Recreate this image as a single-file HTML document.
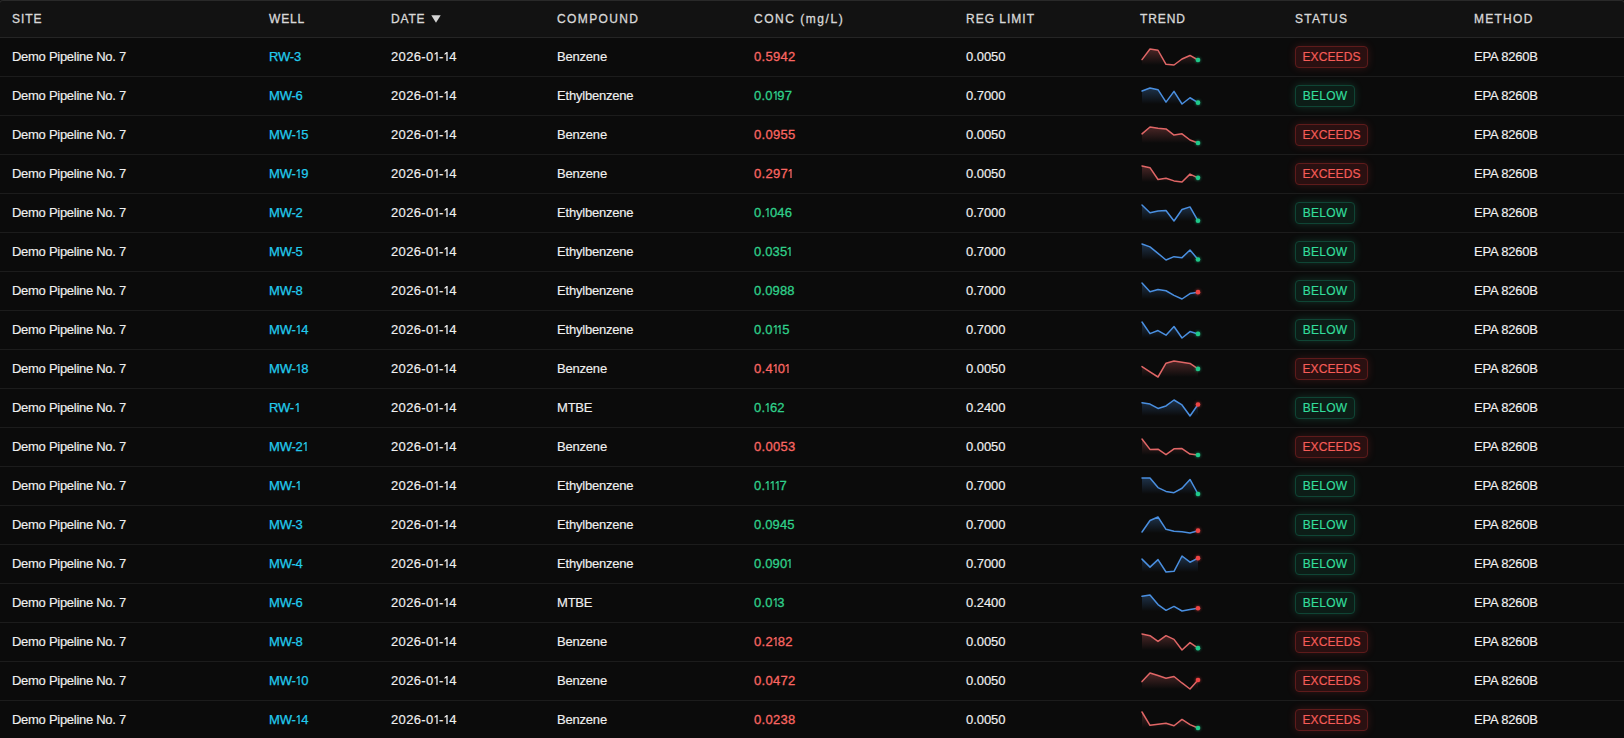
<!DOCTYPE html><html><head><meta charset="utf-8"><style>

*{box-sizing:border-box;margin:0;padding:0}
html,body{width:1624px;height:738px;overflow:hidden;background:#0b0b0b}
body{font-family:"Liberation Sans",sans-serif;position:relative}
.top{position:absolute;left:-1px;top:0;width:1626px;height:37px;border:1px solid #292929;border-bottom:0;border-radius:4px 4px 0 0;background:#121212}
.hd{display:none}
.hb{position:absolute;left:0;top:37px;width:1624px;height:1px;background:#252525}
.h{position:absolute;top:1px;height:36px;line-height:36px;font-size:12px;font-weight:normal;-webkit-text-stroke:0.3px currentColor;color:#d8d8d8;white-space:nowrap}
.r{position:absolute;left:0;width:1624px;height:39px;border-bottom:1px solid #1c1c1c}
.c{position:absolute;top:0;height:38px;line-height:38px;font-size:13px;letter-spacing:-0.2px;color:#f0f0f0;white-space:nowrap;-webkit-text-stroke:0.15px currentColor}
.lk{color:#22cbee;-webkit-text-stroke:0.25px currentColor}
.nr{color:#fa6662;letter-spacing:0.3px;-webkit-text-stroke:0.3px currentColor}
.dt{letter-spacing:0.34px}
.dt .o{margin-left:0.4px;margin-right:0.34px}
.lk .o{margin-left:0.6px;margin-right:0.2px}
.lm{letter-spacing:-0.05px}
.st{letter-spacing:-0.28px}
.ng{color:#2fd08a;letter-spacing:0.15px;-webkit-text-stroke:0.3px currentColor}
.o{display:inline-block;width:4.8px;height:9.3px;vertical-align:baseline;margin-right:0px}.o svg{display:block}
.sp{position:absolute;top:9px;left:12px;overflow:visible}
.dg{filter:drop-shadow(0 0 1.5px rgba(31,201,138,.7))}
.dr{filter:drop-shadow(0 0 1.5px rgba(239,68,68,.7))}
.bd{position:absolute;left:12px;top:8px;height:22px;line-height:20px;border-radius:4px;border:1px solid;font-size:12px;text-align:center;letter-spacing:0;-webkit-text-stroke:0.18px currentColor}
.be{width:73px;letter-spacing:0.1px}.bb{width:60px;letter-spacing:0.25px;text-indent:0.25px}
.be{color:#f65c58;border-color:#5e1b1b;background:#2a1011;box-shadow:0 0 8px rgba(239,68,68,.18)}
.bb{color:#33dd9c;border-color:#0f4535;background:#0c1d17;box-shadow:0 0 9px rgba(52,211,153,.2)}
.tri{position:absolute;left:419px;top:14px}

</style></head><body>
<svg width="0" height="0" style="position:absolute"><defs><linearGradient id="gr" x1="0" y1="0" x2="0" y2="1"><stop offset="0" stop-color="#e06666" stop-opacity=".3"/><stop offset="1" stop-color="#e06666" stop-opacity="0"/></linearGradient><linearGradient id="gb" x1="0" y1="0" x2="0" y2="1"><stop offset="0" stop-color="#4a8fe0" stop-opacity=".3"/><stop offset="1" stop-color="#4a8fe0" stop-opacity="0"/></linearGradient></defs></svg>
<div class="top"></div><div class="hd"></div><div class="hb"></div>
<svg width="10" height="8" viewBox="0 0 10 8" style="position:absolute;left:431px;top:15px"><path d="M0.3,0.3 L9.7,0.3 L5,7.8 Z" fill="#d4d4d4"/></svg>
<div class="h" style="left:12px;letter-spacing:0.98px">SITE</div>
<div class="h" style="left:269px;letter-spacing:0.85px">WELL</div>
<div class="h" style="left:391px;letter-spacing:0.8px">DATE</div>
<div class="h" style="left:557px;letter-spacing:1.38px">COMPOUND</div>
<div class="h" style="left:754px;letter-spacing:1.53px">CONC (mg/L)</div>
<div class="h" style="left:966px;letter-spacing:1.0px">REG LIMIT</div>
<div class="h" style="left:1140px;letter-spacing:0.92px">TREND</div>
<div class="h" style="left:1295px;letter-spacing:1.29px">STATUS</div>
<div class="h" style="left:1474px;letter-spacing:1.26px">METHOD</div>
<div class="r" style="top:38px">
<div class="c st" style="left:12px">Demo Pipeline No. 7</div>
<div class="c lk" style="left:269px">RW-3</div>
<div class="c dt" style="left:391px">2026-0<span class="o"><svg width="4.8" height="9.3" viewBox="0 0 4.8 9.3"><path d="M2.35,0 H3.65 V9.3 H2.35 V1.85 L0.6,2.95 V1.6 L2.35,0.25 Z" fill="currentColor"/></svg></span>-<span class="o"><svg width="4.8" height="9.3" viewBox="0 0 4.8 9.3"><path d="M2.35,0 H3.65 V9.3 H2.35 V1.85 L0.6,2.95 V1.6 L2.35,0.25 Z" fill="currentColor"/></svg></span>4</div>
<div class="c " style="left:557px">Benzene</div>
<div class="c nr" style="left:754px">0.5942</div>
<div class="c lm" style="left:966px">0.0050</div>
<div class="c" style="left:1128px;width:155px"><svg class="sp" width="60" height="20" viewBox="0 0 60 20"><path d="M2,18 L2,12.58 L10,2.00 L18,3.25 L26,17.35 L34,18.00 L42,11.98 L50,8.47 L58,12.98 L58,18 Z" fill="url(#gr)"/><polyline points="2,12.58 10,2.00 18,3.25 26,17.35 34,18.00 42,11.98 50,8.47 58,12.98" fill="none" stroke="#e06666" stroke-width="1.5" stroke-linejoin="round" stroke-linecap="round"/><circle cx="58" cy="12.98" r="2.3" fill="#1fc98a" class="dg"/></svg></div>
<div class="c" style="left:1283px;width:179px"><span class="bd be">EXCEEDS</span></div>
<div class="c" style="left:1474px">EPA 8260B</div>
</div>
<div class="r" style="top:77px">
<div class="c st" style="left:12px">Demo Pipeline No. 7</div>
<div class="c lk" style="left:269px">MW-6</div>
<div class="c dt" style="left:391px">2026-0<span class="o"><svg width="4.8" height="9.3" viewBox="0 0 4.8 9.3"><path d="M2.35,0 H3.65 V9.3 H2.35 V1.85 L0.6,2.95 V1.6 L2.35,0.25 Z" fill="currentColor"/></svg></span>-<span class="o"><svg width="4.8" height="9.3" viewBox="0 0 4.8 9.3"><path d="M2.35,0 H3.65 V9.3 H2.35 V1.85 L0.6,2.95 V1.6 L2.35,0.25 Z" fill="currentColor"/></svg></span>4</div>
<div class="c " style="left:557px">Ethylbenzene</div>
<div class="c ng" style="left:754px">0.0<span class="o"><svg width="4.8" height="9.3" viewBox="0 0 4.8 9.3"><path d="M2.35,0 H3.65 V9.3 H2.35 V1.85 L0.6,2.95 V1.6 L2.35,0.25 Z" fill="currentColor"/></svg></span>97</div>
<div class="c lm" style="left:966px">0.7000</div>
<div class="c" style="left:1128px;width:155px"><svg class="sp" width="60" height="20" viewBox="0 0 60 20"><path d="M2,18 L2,5.05 L10,2.00 L18,3.67 L26,16.15 L34,5.33 L42,18.00 L50,11.76 L58,16.64 L58,18 Z" fill="url(#gb)"/><polyline points="2,5.05 10,2.00 18,3.67 26,16.15 34,5.33 42,18.00 50,11.76 58,16.64" fill="none" stroke="#4a8fe0" stroke-width="1.5" stroke-linejoin="round" stroke-linecap="round"/><circle cx="58" cy="16.64" r="2.3" fill="#1fc98a" class="dg"/></svg></div>
<div class="c" style="left:1283px;width:179px"><span class="bd bb">BELOW</span></div>
<div class="c" style="left:1474px">EPA 8260B</div>
</div>
<div class="r" style="top:116px">
<div class="c st" style="left:12px">Demo Pipeline No. 7</div>
<div class="c lk" style="left:269px">MW-<span class="o"><svg width="4.8" height="9.3" viewBox="0 0 4.8 9.3"><path d="M2.35,0 H3.65 V9.3 H2.35 V1.85 L0.6,2.95 V1.6 L2.35,0.25 Z" fill="currentColor"/></svg></span>5</div>
<div class="c dt" style="left:391px">2026-0<span class="o"><svg width="4.8" height="9.3" viewBox="0 0 4.8 9.3"><path d="M2.35,0 H3.65 V9.3 H2.35 V1.85 L0.6,2.95 V1.6 L2.35,0.25 Z" fill="currentColor"/></svg></span>-<span class="o"><svg width="4.8" height="9.3" viewBox="0 0 4.8 9.3"><path d="M2.35,0 H3.65 V9.3 H2.35 V1.85 L0.6,2.95 V1.6 L2.35,0.25 Z" fill="currentColor"/></svg></span>4</div>
<div class="c " style="left:557px">Benzene</div>
<div class="c nr" style="left:754px">0.0955</div>
<div class="c lm" style="left:966px">0.0050</div>
<div class="c" style="left:1128px;width:155px"><svg class="sp" width="60" height="20" viewBox="0 0 60 20"><path d="M2,18 L2,8.86 L10,2.00 L18,3.19 L26,3.89 L34,10.05 L42,8.86 L50,15.02 L58,18.00 L58,18 Z" fill="url(#gr)"/><polyline points="2,8.86 10,2.00 18,3.19 26,3.89 34,10.05 42,8.86 50,15.02 58,18.00" fill="none" stroke="#e06666" stroke-width="1.5" stroke-linejoin="round" stroke-linecap="round"/><circle cx="58" cy="18.00" r="2.3" fill="#1fc98a" class="dg"/></svg></div>
<div class="c" style="left:1283px;width:179px"><span class="bd be">EXCEEDS</span></div>
<div class="c" style="left:1474px">EPA 8260B</div>
</div>
<div class="r" style="top:155px">
<div class="c st" style="left:12px">Demo Pipeline No. 7</div>
<div class="c lk" style="left:269px">MW-<span class="o"><svg width="4.8" height="9.3" viewBox="0 0 4.8 9.3"><path d="M2.35,0 H3.65 V9.3 H2.35 V1.85 L0.6,2.95 V1.6 L2.35,0.25 Z" fill="currentColor"/></svg></span>9</div>
<div class="c dt" style="left:391px">2026-0<span class="o"><svg width="4.8" height="9.3" viewBox="0 0 4.8 9.3"><path d="M2.35,0 H3.65 V9.3 H2.35 V1.85 L0.6,2.95 V1.6 L2.35,0.25 Z" fill="currentColor"/></svg></span>-<span class="o"><svg width="4.8" height="9.3" viewBox="0 0 4.8 9.3"><path d="M2.35,0 H3.65 V9.3 H2.35 V1.85 L0.6,2.95 V1.6 L2.35,0.25 Z" fill="currentColor"/></svg></span>4</div>
<div class="c " style="left:557px">Benzene</div>
<div class="c nr" style="left:754px">0.297<span class="o"><svg width="4.8" height="9.3" viewBox="0 0 4.8 9.3"><path d="M2.35,0 H3.65 V9.3 H2.35 V1.85 L0.6,2.95 V1.6 L2.35,0.25 Z" fill="currentColor"/></svg></span></div>
<div class="c lm" style="left:966px">0.0050</div>
<div class="c" style="left:1128px;width:155px"><svg class="sp" width="60" height="20" viewBox="0 0 60 20"><path d="M2,18 L2,2.00 L10,3.70 L18,15.47 L26,14.23 L34,16.91 L42,18.00 L50,10.10 L58,13.83 L58,18 Z" fill="url(#gr)"/><polyline points="2,2.00 10,3.70 18,15.47 26,14.23 34,16.91 42,18.00 50,10.10 58,13.83" fill="none" stroke="#e06666" stroke-width="1.5" stroke-linejoin="round" stroke-linecap="round"/><circle cx="58" cy="13.83" r="2.3" fill="#1fc98a" class="dg"/></svg></div>
<div class="c" style="left:1283px;width:179px"><span class="bd be">EXCEEDS</span></div>
<div class="c" style="left:1474px">EPA 8260B</div>
</div>
<div class="r" style="top:194px">
<div class="c st" style="left:12px">Demo Pipeline No. 7</div>
<div class="c lk" style="left:269px">MW-2</div>
<div class="c dt" style="left:391px">2026-0<span class="o"><svg width="4.8" height="9.3" viewBox="0 0 4.8 9.3"><path d="M2.35,0 H3.65 V9.3 H2.35 V1.85 L0.6,2.95 V1.6 L2.35,0.25 Z" fill="currentColor"/></svg></span>-<span class="o"><svg width="4.8" height="9.3" viewBox="0 0 4.8 9.3"><path d="M2.35,0 H3.65 V9.3 H2.35 V1.85 L0.6,2.95 V1.6 L2.35,0.25 Z" fill="currentColor"/></svg></span>4</div>
<div class="c " style="left:557px">Ethylbenzene</div>
<div class="c ng" style="left:754px">0.<span class="o"><svg width="4.8" height="9.3" viewBox="0 0 4.8 9.3"><path d="M2.35,0 H3.65 V9.3 H2.35 V1.85 L0.6,2.95 V1.6 L2.35,0.25 Z" fill="currentColor"/></svg></span>046</div>
<div class="c lm" style="left:966px">0.7000</div>
<div class="c" style="left:1128px;width:155px"><svg class="sp" width="60" height="20" viewBox="0 0 60 20"><path d="M2,18 L2,2.00 L10,9.81 L18,7.94 L26,7.46 L34,18.00 L42,6.52 L50,3.89 L58,17.80 L58,18 Z" fill="url(#gb)"/><polyline points="2,2.00 10,9.81 18,7.94 26,7.46 34,18.00 42,6.52 50,3.89 58,17.80" fill="none" stroke="#4a8fe0" stroke-width="1.5" stroke-linejoin="round" stroke-linecap="round"/><circle cx="58" cy="17.80" r="2.3" fill="#1fc98a" class="dg"/></svg></div>
<div class="c" style="left:1283px;width:179px"><span class="bd bb">BELOW</span></div>
<div class="c" style="left:1474px">EPA 8260B</div>
</div>
<div class="r" style="top:233px">
<div class="c st" style="left:12px">Demo Pipeline No. 7</div>
<div class="c lk" style="left:269px">MW-5</div>
<div class="c dt" style="left:391px">2026-0<span class="o"><svg width="4.8" height="9.3" viewBox="0 0 4.8 9.3"><path d="M2.35,0 H3.65 V9.3 H2.35 V1.85 L0.6,2.95 V1.6 L2.35,0.25 Z" fill="currentColor"/></svg></span>-<span class="o"><svg width="4.8" height="9.3" viewBox="0 0 4.8 9.3"><path d="M2.35,0 H3.65 V9.3 H2.35 V1.85 L0.6,2.95 V1.6 L2.35,0.25 Z" fill="currentColor"/></svg></span>4</div>
<div class="c " style="left:557px">Ethylbenzene</div>
<div class="c ng" style="left:754px">0.035<span class="o"><svg width="4.8" height="9.3" viewBox="0 0 4.8 9.3"><path d="M2.35,0 H3.65 V9.3 H2.35 V1.85 L0.6,2.95 V1.6 L2.35,0.25 Z" fill="currentColor"/></svg></span></div>
<div class="c lm" style="left:966px">0.7000</div>
<div class="c" style="left:1128px;width:155px"><svg class="sp" width="60" height="20" viewBox="0 0 60 20"><path d="M2,18 L2,2.00 L10,4.86 L18,11.35 L26,18.00 L34,14.68 L42,15.64 L50,8.01 L58,17.50 L58,18 Z" fill="url(#gb)"/><polyline points="2,2.00 10,4.86 18,11.35 26,18.00 34,14.68 42,15.64 50,8.01 58,17.50" fill="none" stroke="#4a8fe0" stroke-width="1.5" stroke-linejoin="round" stroke-linecap="round"/><circle cx="58" cy="17.50" r="2.3" fill="#1fc98a" class="dg"/></svg></div>
<div class="c" style="left:1283px;width:179px"><span class="bd bb">BELOW</span></div>
<div class="c" style="left:1474px">EPA 8260B</div>
</div>
<div class="r" style="top:272px">
<div class="c st" style="left:12px">Demo Pipeline No. 7</div>
<div class="c lk" style="left:269px">MW-8</div>
<div class="c dt" style="left:391px">2026-0<span class="o"><svg width="4.8" height="9.3" viewBox="0 0 4.8 9.3"><path d="M2.35,0 H3.65 V9.3 H2.35 V1.85 L0.6,2.95 V1.6 L2.35,0.25 Z" fill="currentColor"/></svg></span>-<span class="o"><svg width="4.8" height="9.3" viewBox="0 0 4.8 9.3"><path d="M2.35,0 H3.65 V9.3 H2.35 V1.85 L0.6,2.95 V1.6 L2.35,0.25 Z" fill="currentColor"/></svg></span>4</div>
<div class="c " style="left:557px">Ethylbenzene</div>
<div class="c ng" style="left:754px">0.0988</div>
<div class="c lm" style="left:966px">0.7000</div>
<div class="c" style="left:1128px;width:155px"><svg class="sp" width="60" height="20" viewBox="0 0 60 20"><path d="M2,18 L2,2.00 L10,10.68 L18,8.56 L26,9.76 L34,14.34 L42,18.00 L50,12.51 L58,11.16 L58,18 Z" fill="url(#gb)"/><polyline points="2,2.00 10,10.68 18,8.56 26,9.76 34,14.34 42,18.00 50,12.51 58,11.16" fill="none" stroke="#4a8fe0" stroke-width="1.5" stroke-linejoin="round" stroke-linecap="round"/><circle cx="58" cy="11.16" r="2.3" fill="#ef4444" class="dr"/></svg></div>
<div class="c" style="left:1283px;width:179px"><span class="bd bb">BELOW</span></div>
<div class="c" style="left:1474px">EPA 8260B</div>
</div>
<div class="r" style="top:311px">
<div class="c st" style="left:12px">Demo Pipeline No. 7</div>
<div class="c lk" style="left:269px">MW-<span class="o"><svg width="4.8" height="9.3" viewBox="0 0 4.8 9.3"><path d="M2.35,0 H3.65 V9.3 H2.35 V1.85 L0.6,2.95 V1.6 L2.35,0.25 Z" fill="currentColor"/></svg></span>4</div>
<div class="c dt" style="left:391px">2026-0<span class="o"><svg width="4.8" height="9.3" viewBox="0 0 4.8 9.3"><path d="M2.35,0 H3.65 V9.3 H2.35 V1.85 L0.6,2.95 V1.6 L2.35,0.25 Z" fill="currentColor"/></svg></span>-<span class="o"><svg width="4.8" height="9.3" viewBox="0 0 4.8 9.3"><path d="M2.35,0 H3.65 V9.3 H2.35 V1.85 L0.6,2.95 V1.6 L2.35,0.25 Z" fill="currentColor"/></svg></span>4</div>
<div class="c " style="left:557px">Ethylbenzene</div>
<div class="c ng" style="left:754px">0.0<span class="o"><svg width="4.8" height="9.3" viewBox="0 0 4.8 9.3"><path d="M2.35,0 H3.65 V9.3 H2.35 V1.85 L0.6,2.95 V1.6 L2.35,0.25 Z" fill="currentColor"/></svg></span><span class="o"><svg width="4.8" height="9.3" viewBox="0 0 4.8 9.3"><path d="M2.35,0 H3.65 V9.3 H2.35 V1.85 L0.6,2.95 V1.6 L2.35,0.25 Z" fill="currentColor"/></svg></span>5</div>
<div class="c lm" style="left:966px">0.7000</div>
<div class="c" style="left:1128px;width:155px"><svg class="sp" width="60" height="20" viewBox="0 0 60 20"><path d="M2,18 L2,2.00 L10,13.63 L18,10.54 L26,15.21 L34,6.46 L42,18.00 L50,11.58 L58,13.91 L58,18 Z" fill="url(#gb)"/><polyline points="2,2.00 10,13.63 18,10.54 26,15.21 34,6.46 42,18.00 50,11.58 58,13.91" fill="none" stroke="#4a8fe0" stroke-width="1.5" stroke-linejoin="round" stroke-linecap="round"/><circle cx="58" cy="13.91" r="2.3" fill="#1fc98a" class="dg"/></svg></div>
<div class="c" style="left:1283px;width:179px"><span class="bd bb">BELOW</span></div>
<div class="c" style="left:1474px">EPA 8260B</div>
</div>
<div class="r" style="top:350px">
<div class="c st" style="left:12px">Demo Pipeline No. 7</div>
<div class="c lk" style="left:269px">MW-<span class="o"><svg width="4.8" height="9.3" viewBox="0 0 4.8 9.3"><path d="M2.35,0 H3.65 V9.3 H2.35 V1.85 L0.6,2.95 V1.6 L2.35,0.25 Z" fill="currentColor"/></svg></span>8</div>
<div class="c dt" style="left:391px">2026-0<span class="o"><svg width="4.8" height="9.3" viewBox="0 0 4.8 9.3"><path d="M2.35,0 H3.65 V9.3 H2.35 V1.85 L0.6,2.95 V1.6 L2.35,0.25 Z" fill="currentColor"/></svg></span>-<span class="o"><svg width="4.8" height="9.3" viewBox="0 0 4.8 9.3"><path d="M2.35,0 H3.65 V9.3 H2.35 V1.85 L0.6,2.95 V1.6 L2.35,0.25 Z" fill="currentColor"/></svg></span>4</div>
<div class="c " style="left:557px">Benzene</div>
<div class="c nr" style="left:754px">0.4<span class="o"><svg width="4.8" height="9.3" viewBox="0 0 4.8 9.3"><path d="M2.35,0 H3.65 V9.3 H2.35 V1.85 L0.6,2.95 V1.6 L2.35,0.25 Z" fill="currentColor"/></svg></span>0<span class="o"><svg width="4.8" height="9.3" viewBox="0 0 4.8 9.3"><path d="M2.35,0 H3.65 V9.3 H2.35 V1.85 L0.6,2.95 V1.6 L2.35,0.25 Z" fill="currentColor"/></svg></span></div>
<div class="c lm" style="left:966px">0.0050</div>
<div class="c" style="left:1128px;width:155px"><svg class="sp" width="60" height="20" viewBox="0 0 60 20"><path d="M2,18 L2,7.53 L10,12.77 L18,18.00 L26,4.19 L34,2.00 L42,3.23 L50,4.48 L58,9.91 L58,18 Z" fill="url(#gr)"/><polyline points="2,7.53 10,12.77 18,18.00 26,4.19 34,2.00 42,3.23 50,4.48 58,9.91" fill="none" stroke="#e06666" stroke-width="1.5" stroke-linejoin="round" stroke-linecap="round"/><circle cx="58" cy="9.91" r="2.3" fill="#1fc98a" class="dg"/></svg></div>
<div class="c" style="left:1283px;width:179px"><span class="bd be">EXCEEDS</span></div>
<div class="c" style="left:1474px">EPA 8260B</div>
</div>
<div class="r" style="top:389px">
<div class="c st" style="left:12px">Demo Pipeline No. 7</div>
<div class="c lk" style="left:269px">RW-<span class="o"><svg width="4.8" height="9.3" viewBox="0 0 4.8 9.3"><path d="M2.35,0 H3.65 V9.3 H2.35 V1.85 L0.6,2.95 V1.6 L2.35,0.25 Z" fill="currentColor"/></svg></span></div>
<div class="c dt" style="left:391px">2026-0<span class="o"><svg width="4.8" height="9.3" viewBox="0 0 4.8 9.3"><path d="M2.35,0 H3.65 V9.3 H2.35 V1.85 L0.6,2.95 V1.6 L2.35,0.25 Z" fill="currentColor"/></svg></span>-<span class="o"><svg width="4.8" height="9.3" viewBox="0 0 4.8 9.3"><path d="M2.35,0 H3.65 V9.3 H2.35 V1.85 L0.6,2.95 V1.6 L2.35,0.25 Z" fill="currentColor"/></svg></span>4</div>
<div class="c " style="left:557px">MTBE</div>
<div class="c ng" style="left:754px">0.<span class="o"><svg width="4.8" height="9.3" viewBox="0 0 4.8 9.3"><path d="M2.35,0 H3.65 V9.3 H2.35 V1.85 L0.6,2.95 V1.6 L2.35,0.25 Z" fill="currentColor"/></svg></span>62</div>
<div class="c lm" style="left:966px">0.2400</div>
<div class="c" style="left:1128px;width:155px"><svg class="sp" width="60" height="20" viewBox="0 0 60 20"><path d="M2,18 L2,4.83 L10,6.05 L18,10.46 L26,7.94 L34,2.00 L42,6.98 L50,18.00 L58,6.52 L58,18 Z" fill="url(#gb)"/><polyline points="2,4.83 10,6.05 18,10.46 26,7.94 34,2.00 42,6.98 50,18.00 58,6.52" fill="none" stroke="#4a8fe0" stroke-width="1.5" stroke-linejoin="round" stroke-linecap="round"/><circle cx="58" cy="6.52" r="2.3" fill="#ef4444" class="dr"/></svg></div>
<div class="c" style="left:1283px;width:179px"><span class="bd bb">BELOW</span></div>
<div class="c" style="left:1474px">EPA 8260B</div>
</div>
<div class="r" style="top:428px">
<div class="c st" style="left:12px">Demo Pipeline No. 7</div>
<div class="c lk" style="left:269px">MW-2<span class="o"><svg width="4.8" height="9.3" viewBox="0 0 4.8 9.3"><path d="M2.35,0 H3.65 V9.3 H2.35 V1.85 L0.6,2.95 V1.6 L2.35,0.25 Z" fill="currentColor"/></svg></span></div>
<div class="c dt" style="left:391px">2026-0<span class="o"><svg width="4.8" height="9.3" viewBox="0 0 4.8 9.3"><path d="M2.35,0 H3.65 V9.3 H2.35 V1.85 L0.6,2.95 V1.6 L2.35,0.25 Z" fill="currentColor"/></svg></span>-<span class="o"><svg width="4.8" height="9.3" viewBox="0 0 4.8 9.3"><path d="M2.35,0 H3.65 V9.3 H2.35 V1.85 L0.6,2.95 V1.6 L2.35,0.25 Z" fill="currentColor"/></svg></span>4</div>
<div class="c " style="left:557px">Benzene</div>
<div class="c nr" style="left:754px">0.0053</div>
<div class="c lm" style="left:966px">0.0050</div>
<div class="c" style="left:1128px;width:155px"><svg class="sp" width="60" height="20" viewBox="0 0 60 20"><path d="M2,18 L2,2.00 L10,12.41 L18,12.21 L26,17.61 L34,11.77 L42,11.53 L50,17.12 L58,18.00 L58,18 Z" fill="url(#gr)"/><polyline points="2,2.00 10,12.41 18,12.21 26,17.61 34,11.77 42,11.53 50,17.12 58,18.00" fill="none" stroke="#e06666" stroke-width="1.5" stroke-linejoin="round" stroke-linecap="round"/><circle cx="58" cy="18.00" r="2.3" fill="#1fc98a" class="dg"/></svg></div>
<div class="c" style="left:1283px;width:179px"><span class="bd be">EXCEEDS</span></div>
<div class="c" style="left:1474px">EPA 8260B</div>
</div>
<div class="r" style="top:467px">
<div class="c st" style="left:12px">Demo Pipeline No. 7</div>
<div class="c lk" style="left:269px">MW-<span class="o"><svg width="4.8" height="9.3" viewBox="0 0 4.8 9.3"><path d="M2.35,0 H3.65 V9.3 H2.35 V1.85 L0.6,2.95 V1.6 L2.35,0.25 Z" fill="currentColor"/></svg></span></div>
<div class="c dt" style="left:391px">2026-0<span class="o"><svg width="4.8" height="9.3" viewBox="0 0 4.8 9.3"><path d="M2.35,0 H3.65 V9.3 H2.35 V1.85 L0.6,2.95 V1.6 L2.35,0.25 Z" fill="currentColor"/></svg></span>-<span class="o"><svg width="4.8" height="9.3" viewBox="0 0 4.8 9.3"><path d="M2.35,0 H3.65 V9.3 H2.35 V1.85 L0.6,2.95 V1.6 L2.35,0.25 Z" fill="currentColor"/></svg></span>4</div>
<div class="c " style="left:557px">Ethylbenzene</div>
<div class="c ng" style="left:754px">0.<span class="o"><svg width="4.8" height="9.3" viewBox="0 0 4.8 9.3"><path d="M2.35,0 H3.65 V9.3 H2.35 V1.85 L0.6,2.95 V1.6 L2.35,0.25 Z" fill="currentColor"/></svg></span><span class="o"><svg width="4.8" height="9.3" viewBox="0 0 4.8 9.3"><path d="M2.35,0 H3.65 V9.3 H2.35 V1.85 L0.6,2.95 V1.6 L2.35,0.25 Z" fill="currentColor"/></svg></span><span class="o"><svg width="4.8" height="9.3" viewBox="0 0 4.8 9.3"><path d="M2.35,0 H3.65 V9.3 H2.35 V1.85 L0.6,2.95 V1.6 L2.35,0.25 Z" fill="currentColor"/></svg></span>7</div>
<div class="c lm" style="left:966px">0.7000</div>
<div class="c" style="left:1128px;width:155px"><svg class="sp" width="60" height="20" viewBox="0 0 60 20"><path d="M2,18 L2,2.00 L10,2.00 L18,11.59 L26,15.42 L34,16.69 L42,12.24 L50,3.44 L58,18.00 L58,18 Z" fill="url(#gb)"/><polyline points="2,2.00 10,2.00 18,11.59 26,15.42 34,16.69 42,12.24 50,3.44 58,18.00" fill="none" stroke="#4a8fe0" stroke-width="1.5" stroke-linejoin="round" stroke-linecap="round"/><circle cx="58" cy="18.00" r="2.3" fill="#1fc98a" class="dg"/></svg></div>
<div class="c" style="left:1283px;width:179px"><span class="bd bb">BELOW</span></div>
<div class="c" style="left:1474px">EPA 8260B</div>
</div>
<div class="r" style="top:506px">
<div class="c st" style="left:12px">Demo Pipeline No. 7</div>
<div class="c lk" style="left:269px">MW-3</div>
<div class="c dt" style="left:391px">2026-0<span class="o"><svg width="4.8" height="9.3" viewBox="0 0 4.8 9.3"><path d="M2.35,0 H3.65 V9.3 H2.35 V1.85 L0.6,2.95 V1.6 L2.35,0.25 Z" fill="currentColor"/></svg></span>-<span class="o"><svg width="4.8" height="9.3" viewBox="0 0 4.8 9.3"><path d="M2.35,0 H3.65 V9.3 H2.35 V1.85 L0.6,2.95 V1.6 L2.35,0.25 Z" fill="currentColor"/></svg></span>4</div>
<div class="c " style="left:557px">Ethylbenzene</div>
<div class="c ng" style="left:754px">0.0945</div>
<div class="c lm" style="left:966px">0.7000</div>
<div class="c" style="left:1128px;width:155px"><svg class="sp" width="60" height="20" viewBox="0 0 60 20"><path d="M2,18 L2,17.03 L10,5.53 L18,2.00 L26,14.30 L34,16.15 L42,16.79 L50,18.00 L58,15.66 L58,18 Z" fill="url(#gb)"/><polyline points="2,17.03 10,5.53 18,2.00 26,14.30 34,16.15 42,16.79 50,18.00 58,15.66" fill="none" stroke="#4a8fe0" stroke-width="1.5" stroke-linejoin="round" stroke-linecap="round"/><circle cx="58" cy="15.66" r="2.3" fill="#ef4444" class="dr"/></svg></div>
<div class="c" style="left:1283px;width:179px"><span class="bd bb">BELOW</span></div>
<div class="c" style="left:1474px">EPA 8260B</div>
</div>
<div class="r" style="top:545px">
<div class="c st" style="left:12px">Demo Pipeline No. 7</div>
<div class="c lk" style="left:269px">MW-4</div>
<div class="c dt" style="left:391px">2026-0<span class="o"><svg width="4.8" height="9.3" viewBox="0 0 4.8 9.3"><path d="M2.35,0 H3.65 V9.3 H2.35 V1.85 L0.6,2.95 V1.6 L2.35,0.25 Z" fill="currentColor"/></svg></span>-<span class="o"><svg width="4.8" height="9.3" viewBox="0 0 4.8 9.3"><path d="M2.35,0 H3.65 V9.3 H2.35 V1.85 L0.6,2.95 V1.6 L2.35,0.25 Z" fill="currentColor"/></svg></span>4</div>
<div class="c " style="left:557px">Ethylbenzene</div>
<div class="c ng" style="left:754px">0.090<span class="o"><svg width="4.8" height="9.3" viewBox="0 0 4.8 9.3"><path d="M2.35,0 H3.65 V9.3 H2.35 V1.85 L0.6,2.95 V1.6 L2.35,0.25 Z" fill="currentColor"/></svg></span></div>
<div class="c lm" style="left:966px">0.7000</div>
<div class="c" style="left:1128px;width:155px"><svg class="sp" width="60" height="20" viewBox="0 0 60 20"><path d="M2,18 L2,5.10 L10,13.12 L18,5.59 L26,18.00 L34,17.31 L42,2.00 L50,8.21 L58,4.16 L58,18 Z" fill="url(#gb)"/><polyline points="2,5.10 10,13.12 18,5.59 26,18.00 34,17.31 42,2.00 50,8.21 58,4.16" fill="none" stroke="#4a8fe0" stroke-width="1.5" stroke-linejoin="round" stroke-linecap="round"/><circle cx="58" cy="4.16" r="2.3" fill="#ef4444" class="dr"/></svg></div>
<div class="c" style="left:1283px;width:179px"><span class="bd bb">BELOW</span></div>
<div class="c" style="left:1474px">EPA 8260B</div>
</div>
<div class="r" style="top:584px">
<div class="c st" style="left:12px">Demo Pipeline No. 7</div>
<div class="c lk" style="left:269px">MW-6</div>
<div class="c dt" style="left:391px">2026-0<span class="o"><svg width="4.8" height="9.3" viewBox="0 0 4.8 9.3"><path d="M2.35,0 H3.65 V9.3 H2.35 V1.85 L0.6,2.95 V1.6 L2.35,0.25 Z" fill="currentColor"/></svg></span>-<span class="o"><svg width="4.8" height="9.3" viewBox="0 0 4.8 9.3"><path d="M2.35,0 H3.65 V9.3 H2.35 V1.85 L0.6,2.95 V1.6 L2.35,0.25 Z" fill="currentColor"/></svg></span>4</div>
<div class="c " style="left:557px">MTBE</div>
<div class="c ng" style="left:754px">0.0<span class="o"><svg width="4.8" height="9.3" viewBox="0 0 4.8 9.3"><path d="M2.35,0 H3.65 V9.3 H2.35 V1.85 L0.6,2.95 V1.6 L2.35,0.25 Z" fill="currentColor"/></svg></span>3</div>
<div class="c lm" style="left:966px">0.2400</div>
<div class="c" style="left:1128px;width:155px"><svg class="sp" width="60" height="20" viewBox="0 0 60 20"><path d="M2,18 L2,3.36 L10,2.00 L18,11.59 L26,17.33 L34,13.42 L42,18.00 L50,16.46 L58,15.21 L58,18 Z" fill="url(#gb)"/><polyline points="2,3.36 10,2.00 18,11.59 26,17.33 34,13.42 42,18.00 50,16.46 58,15.21" fill="none" stroke="#4a8fe0" stroke-width="1.5" stroke-linejoin="round" stroke-linecap="round"/><circle cx="58" cy="15.21" r="2.3" fill="#ef4444" class="dr"/></svg></div>
<div class="c" style="left:1283px;width:179px"><span class="bd bb">BELOW</span></div>
<div class="c" style="left:1474px">EPA 8260B</div>
</div>
<div class="r" style="top:623px">
<div class="c st" style="left:12px">Demo Pipeline No. 7</div>
<div class="c lk" style="left:269px">MW-8</div>
<div class="c dt" style="left:391px">2026-0<span class="o"><svg width="4.8" height="9.3" viewBox="0 0 4.8 9.3"><path d="M2.35,0 H3.65 V9.3 H2.35 V1.85 L0.6,2.95 V1.6 L2.35,0.25 Z" fill="currentColor"/></svg></span>-<span class="o"><svg width="4.8" height="9.3" viewBox="0 0 4.8 9.3"><path d="M2.35,0 H3.65 V9.3 H2.35 V1.85 L0.6,2.95 V1.6 L2.35,0.25 Z" fill="currentColor"/></svg></span>4</div>
<div class="c " style="left:557px">Benzene</div>
<div class="c nr" style="left:754px">0.2<span class="o"><svg width="4.8" height="9.3" viewBox="0 0 4.8 9.3"><path d="M2.35,0 H3.65 V9.3 H2.35 V1.85 L0.6,2.95 V1.6 L2.35,0.25 Z" fill="currentColor"/></svg></span>82</div>
<div class="c lm" style="left:966px">0.0050</div>
<div class="c" style="left:1128px;width:155px"><svg class="sp" width="60" height="20" viewBox="0 0 60 20"><path d="M2,18 L2,2.00 L10,3.67 L18,9.40 L26,3.67 L34,7.36 L42,18.00 L50,10.59 L58,16.15 L58,18 Z" fill="url(#gr)"/><polyline points="2,2.00 10,3.67 18,9.40 26,3.67 34,7.36 42,18.00 50,10.59 58,16.15" fill="none" stroke="#e06666" stroke-width="1.5" stroke-linejoin="round" stroke-linecap="round"/><circle cx="58" cy="16.15" r="2.3" fill="#1fc98a" class="dg"/></svg></div>
<div class="c" style="left:1283px;width:179px"><span class="bd be">EXCEEDS</span></div>
<div class="c" style="left:1474px">EPA 8260B</div>
</div>
<div class="r" style="top:662px">
<div class="c st" style="left:12px">Demo Pipeline No. 7</div>
<div class="c lk" style="left:269px">MW-<span class="o"><svg width="4.8" height="9.3" viewBox="0 0 4.8 9.3"><path d="M2.35,0 H3.65 V9.3 H2.35 V1.85 L0.6,2.95 V1.6 L2.35,0.25 Z" fill="currentColor"/></svg></span>0</div>
<div class="c dt" style="left:391px">2026-0<span class="o"><svg width="4.8" height="9.3" viewBox="0 0 4.8 9.3"><path d="M2.35,0 H3.65 V9.3 H2.35 V1.85 L0.6,2.95 V1.6 L2.35,0.25 Z" fill="currentColor"/></svg></span>-<span class="o"><svg width="4.8" height="9.3" viewBox="0 0 4.8 9.3"><path d="M2.35,0 H3.65 V9.3 H2.35 V1.85 L0.6,2.95 V1.6 L2.35,0.25 Z" fill="currentColor"/></svg></span>4</div>
<div class="c " style="left:557px">Benzene</div>
<div class="c nr" style="left:754px">0.0472</div>
<div class="c lm" style="left:966px">0.0050</div>
<div class="c" style="left:1128px;width:155px"><svg class="sp" width="60" height="20" viewBox="0 0 60 20"><path d="M2,18 L2,10.59 L10,2.00 L18,4.58 L26,7.18 L34,5.53 L42,11.96 L50,18.00 L58,9.04 L58,18 Z" fill="url(#gr)"/><polyline points="2,10.59 10,2.00 18,4.58 26,7.18 34,5.53 42,11.96 50,18.00 58,9.04" fill="none" stroke="#e06666" stroke-width="1.5" stroke-linejoin="round" stroke-linecap="round"/><circle cx="58" cy="9.04" r="2.3" fill="#ef4444" class="dr"/></svg></div>
<div class="c" style="left:1283px;width:179px"><span class="bd be">EXCEEDS</span></div>
<div class="c" style="left:1474px">EPA 8260B</div>
</div>
<div class="r" style="top:701px">
<div class="c st" style="left:12px">Demo Pipeline No. 7</div>
<div class="c lk" style="left:269px">MW-<span class="o"><svg width="4.8" height="9.3" viewBox="0 0 4.8 9.3"><path d="M2.35,0 H3.65 V9.3 H2.35 V1.85 L0.6,2.95 V1.6 L2.35,0.25 Z" fill="currentColor"/></svg></span>4</div>
<div class="c dt" style="left:391px">2026-0<span class="o"><svg width="4.8" height="9.3" viewBox="0 0 4.8 9.3"><path d="M2.35,0 H3.65 V9.3 H2.35 V1.85 L0.6,2.95 V1.6 L2.35,0.25 Z" fill="currentColor"/></svg></span>-<span class="o"><svg width="4.8" height="9.3" viewBox="0 0 4.8 9.3"><path d="M2.35,0 H3.65 V9.3 H2.35 V1.85 L0.6,2.95 V1.6 L2.35,0.25 Z" fill="currentColor"/></svg></span>4</div>
<div class="c " style="left:557px">Benzene</div>
<div class="c nr" style="left:754px">0.0238</div>
<div class="c lm" style="left:966px">0.0050</div>
<div class="c" style="left:1128px;width:155px"><svg class="sp" width="60" height="20" viewBox="0 0 60 20"><path d="M2,18 L2,2.00 L10,15.27 L18,14.20 L26,13.22 L34,15.76 L42,9.41 L50,14.59 L58,18.00 L58,18 Z" fill="url(#gr)"/><polyline points="2,2.00 10,15.27 18,14.20 26,13.22 34,15.76 42,9.41 50,14.59 58,18.00" fill="none" stroke="#e06666" stroke-width="1.5" stroke-linejoin="round" stroke-linecap="round"/><circle cx="58" cy="18.00" r="2.3" fill="#1fc98a" class="dg"/></svg></div>
<div class="c" style="left:1283px;width:179px"><span class="bd be">EXCEEDS</span></div>
<div class="c" style="left:1474px">EPA 8260B</div>
</div>
</body></html>
